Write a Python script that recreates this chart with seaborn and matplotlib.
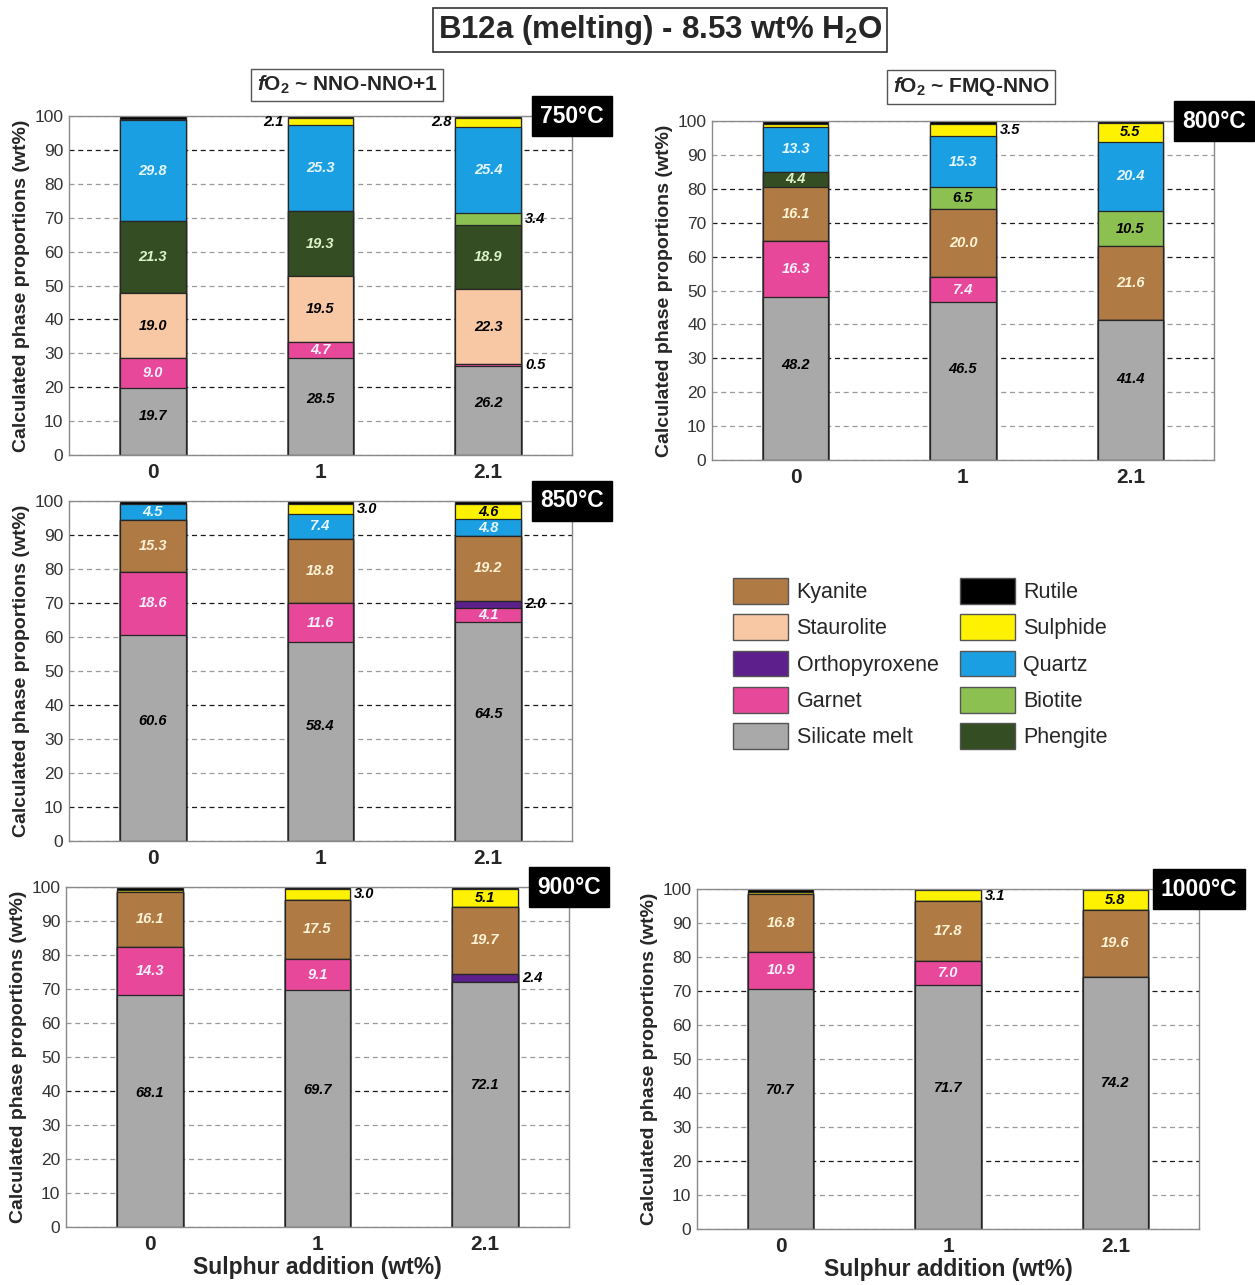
import matplotlib
matplotlib.use("Agg")
import matplotlib.pyplot as plt
import numpy as np
import pandas as pd
import seaborn as sns
from matplotlib.patches import Patch

sns.set_theme(style="white")
plt.rcParams['font.family'] = ['Liberation Sans', 'DejaVu Sans']
plt.rcParams['mathtext.fontset'] = 'custom'
plt.rcParams['mathtext.rm'] = 'Liberation Sans:bold'
plt.rcParams['mathtext.it'] = 'Liberation Sans:italic:bold'
plt.rcParams['mathtext.bf'] = 'Liberation Sans:bold'

# ---------------- data ----------------
sulphur = ["0", "1", "2.1"]
phases = ["Silicate melt", "Garnet", "Orthopyroxene", "Staurolite", "Kyanite",
          "Phengite", "Biotite", "Quartz", "Sulphide", "Rutile"]

colors = {
    "Kyanite": "#b07a45", "Staurolite": "#f8c8a4", "Orthopyroxene": "#5c1f8c",
    "Garnet": "#e8489a", "Silicate melt": "#a9a9a9", "Rutile": "#000000",
    "Sulphide": "#fff200", "Quartz": "#1aa0e2", "Biotite": "#8cc152",
    "Phengite": "#344d22",
}

t750 = {"Silicate melt": [19.7, 28.5, 26.2], "Garnet": [9.0, 4.7, 0.5],
        "Orthopyroxene": [0, 0, 0], "Staurolite": [19.0, 19.5, 22.3],
        "Kyanite": [0, 0, 0], "Phengite": [21.3, 19.3, 18.9],
        "Biotite": [0, 0, 3.4], "Quartz": [29.8, 25.3, 25.4],
        "Sulphide": [0.4, 2.1, 2.8], "Rutile": [0.8, 0.6, 0.5]}
t800 = {"Silicate melt": [48.2, 46.5, 41.4], "Garnet": [16.3, 7.4, 0],
        "Orthopyroxene": [0, 0, 0], "Staurolite": [0, 0, 0],
        "Kyanite": [16.1, 20.0, 21.6], "Phengite": [4.4, 0, 0],
        "Biotite": [0, 6.5, 10.5], "Quartz": [13.3, 15.3, 20.4],
        "Sulphide": [0.7, 3.5, 5.5], "Rutile": [1.0, 0.8, 0.6]}
t850 = {"Silicate melt": [60.6, 58.4, 64.5], "Garnet": [18.6, 11.6, 4.1],
        "Orthopyroxene": [0, 0, 2.0], "Staurolite": [0, 0, 0],
        "Kyanite": [15.3, 18.8, 19.2], "Phengite": [0, 0, 0],
        "Biotite": [0, 0, 0], "Quartz": [4.5, 7.4, 4.8],
        "Sulphide": [0, 3.0, 4.6], "Rutile": [1.0, 0.8, 0.8]}
t900 = {"Silicate melt": [68.1, 69.7, 72.1], "Garnet": [14.3, 9.1, 0],
        "Orthopyroxene": [0, 0, 2.4], "Staurolite": [0, 0, 0],
        "Kyanite": [16.1, 17.5, 19.7], "Phengite": [0, 0, 0],
        "Biotite": [0, 0, 0], "Quartz": [0, 0, 0],
        "Sulphide": [0.5, 3.0, 5.1], "Rutile": [1.0, 0.7, 0.7]}
t1000 = {"Silicate melt": [70.7, 71.7, 74.2], "Garnet": [10.9, 7.0, 0],
         "Orthopyroxene": [0, 0, 0], "Staurolite": [0, 0, 0],
         "Kyanite": [16.8, 17.8, 19.6], "Phengite": [0, 0, 0],
         "Biotite": [0, 0, 0], "Quartz": [0, 0, 0],
         "Sulphide": [0.6, 3.1, 5.8], "Rutile": [1.0, 0.4, 0.4]}

# which segments carry a value label, and where (in / right / left)
lab750 = [("Silicate melt", 0, "in"), ("Silicate melt", 1, "in"), ("Silicate melt", 2, "in"),
          ("Garnet", 0, "in"), ("Garnet", 1, "in"), ("Garnet", 2, "right"),
          ("Staurolite", 0, "in"), ("Staurolite", 1, "in"), ("Staurolite", 2, "in"),
          ("Phengite", 0, "in"), ("Phengite", 1, "in"), ("Phengite", 2, "in"),
          ("Biotite", 2, "right"),
          ("Quartz", 0, "in"), ("Quartz", 1, "in"), ("Quartz", 2, "in"),
          ("Sulphide", 1, "left"), ("Sulphide", 2, "left")]
lab800 = [("Silicate melt", 0, "in"), ("Silicate melt", 1, "in"), ("Silicate melt", 2, "in"),
          ("Garnet", 0, "in"), ("Garnet", 1, "in"),
          ("Kyanite", 0, "in"), ("Kyanite", 1, "in"), ("Kyanite", 2, "in"),
          ("Phengite", 0, "in"), ("Biotite", 1, "in"), ("Biotite", 2, "in"),
          ("Quartz", 0, "in"), ("Quartz", 1, "in"), ("Quartz", 2, "in"),
          ("Sulphide", 1, "right"), ("Sulphide", 2, "in")]
lab850 = [("Silicate melt", 0, "in"), ("Silicate melt", 1, "in"), ("Silicate melt", 2, "in"),
          ("Garnet", 0, "in"), ("Garnet", 1, "in"), ("Garnet", 2, "in"),
          ("Orthopyroxene", 2, "right"),
          ("Kyanite", 0, "in"), ("Kyanite", 1, "in"), ("Kyanite", 2, "in"),
          ("Quartz", 0, "in"), ("Quartz", 1, "in"), ("Quartz", 2, "in"),
          ("Sulphide", 1, "right"), ("Sulphide", 2, "in")]
lab900 = [("Silicate melt", 0, "in"), ("Silicate melt", 1, "in"), ("Silicate melt", 2, "in"),
          ("Garnet", 0, "in"), ("Garnet", 1, "in"), ("Orthopyroxene", 2, "right"),
          ("Kyanite", 0, "in"), ("Kyanite", 1, "in"), ("Kyanite", 2, "in"),
          ("Sulphide", 1, "right"), ("Sulphide", 2, "in")]
lab1000 = [("Silicate melt", 0, "in"), ("Silicate melt", 1, "in"), ("Silicate melt", 2, "in"),
           ("Garnet", 0, "in"), ("Garnet", 1, "in"),
           ("Kyanite", 0, "in"), ("Kyanite", 1, "in"), ("Kyanite", 2, "in"),
           ("Sulphide", 1, "right"), ("Sulphide", 2, "in")]

# gridlines that appear darker in the original figure
dark750 = [90, 40, 20]
dark800 = [80, 70, 60, 30]
dark850 = [90, 70, 40, 10]
dark900 = [40]
dark1000 = [70, 20]

inside_text_color = {"Garnet": "#f6f0ff", "Quartz": "#e8f7ff", "Phengite": "#e0f2c8",
                     "Kyanite": "#fff3d6"}

# ---------------- figure ----------------
W, H = 1255, 1285
fig = plt.figure(figsize=(W / 100, H / 100), dpi=100)
fig.patch.set_facecolor("white")

BAR_W = 0.39
LAB_FS = 10.5


def px_axes(left, top, right, bottom):
    return fig.add_axes([left / W, 1 - bottom / H, (right - left) / W, (bottom - top) / H])


panels = [
    ("750°C", t750, lab750, dark750, px_axes(69, 116, 572, 455), False),
    ("800°C", t800, lab800, dark800, px_axes(712, 121, 1214, 460), False),
    ("850°C", t850, lab850, dark850, px_axes(69, 501, 572, 841), False),
    ("900°C", t900, lab900, dark900, px_axes(66, 887, 569, 1227), True),
    ("1000°C", t1000, lab1000, dark1000, px_axes(697, 889, 1199, 1229), True),
]

for temp, data, labels, dark, ax, bottom_row in panels:
    df = pd.DataFrame(data, index=sulphur)
    cum = df[phases].cumsum(axis=1)
    ax.set_axisbelow(True)
    # draw cumulative bars from the top phase down so lower phases overlay
    for ph in phases[::-1]:
        d = pd.DataFrame({"sulphur": sulphur, "top": cum[ph].values})
        sns.barplot(data=d, x="sulphur", y="top", order=sulphur, color=colors[ph],
                    saturation=1, width=BAR_W, edgecolor="#262626", linewidth=0.9,
                    errorbar=None, ax=ax)
    ax.set_xlim(-0.5, 2.5)
    ax.set_ylim(0, 100)
    ax.set_yticks(np.arange(0, 101, 10))
    ax.yaxis.grid(True, linestyle=(0, (4, 3)), color="#9a9a9a", linewidth=0.9)
    ax.xaxis.grid(False)
    for loc, gl in zip(ax.get_yticks(), ax.get_ygridlines()):
        if int(round(loc)) in dark:
            gl.set_color("#1a1a1a")
    ax.tick_params(axis="y", labelsize=12.5, colors="#333333", length=0, pad=4)
    ax.tick_params(axis="x", labelsize=15, length=0, pad=6)
    for t in ax.get_xticklabels():
        t.set_fontweight("bold")
    for s in ax.spines.values():
        s.set_color("#8a8a8a")
        s.set_linewidth(1.0)
    ax.set_ylabel("Calculated phase proportions (wt%)", fontsize=14, fontweight="bold",
                  labelpad=3)
    if bottom_row:
        ax.set_xlabel("Sulphur addition (wt%)", fontsize=16.5, fontweight="bold", labelpad=1)
    else:
        ax.set_xlabel("")

    # value labels
    for ph, i, where in labels:
        v = df.loc[sulphur[i], ph]
        top = cum.loc[sulphur[i], ph]
        bot = top - v
        if ph == "Silicate melt":
            y = bot + 0.58 * v
        else:
            y = bot + 0.5 * v
        txt = f"{v:.1f}"
        kw = dict(va="center", fontsize=LAB_FS, fontweight="bold", fontstyle="italic",
                  zorder=10)
        if where == "in":
            ax.text(i, y, txt, ha="center", color=inside_text_color.get(ph, "black"), **kw)
        elif where == "right":
            ax.text(i + BAR_W / 2 + 0.025, y, txt, ha="left", color="black", **kw)
        else:
            ax.text(i - BAR_W / 2 - 0.025, y, txt, ha="right", color="black", **kw)

    # temperature tag
    ax.text(1.0, 1.0, temp, transform=ax.transAxes, ha="center", va="center",
            fontsize=16.5, fontweight="bold", color="white", zorder=20, clip_on=False,
            bbox=dict(boxstyle="square,pad=0.35", fc="black", ec="black"))

# title and fO2 boxes
fig.text(0.526, 0.9767, r"B12a (melting) - 8.53 wt% H$_2$O", ha="center", va="center",
         fontsize=22.5, fontweight="bold",
         bbox=dict(boxstyle="square,pad=0.15", fc="white", ec="#333333", lw=1.2))
fig.text(347 / W, 1 - 85 / H, r"$f$O$_2$ ~ NNO-NNO+1", ha="center", va="center",
         fontsize=15, fontweight="bold",
         bbox=dict(boxstyle="square,pad=0.25", fc="white", ec="#555555", lw=1.0))
fig.text(971 / W, 1 - 87 / H, r"$f$O$_2$ ~ FMQ-NNO", ha="center", va="center",
         fontsize=15, fontweight="bold",
         bbox=dict(boxstyle="square,pad=0.25", fc="white", ec="#555555", lw=1.0))

# legend
leg_order = ["Kyanite", "Staurolite", "Orthopyroxene", "Garnet", "Silicate melt",
             "Rutile", "Sulphide", "Quartz", "Biotite", "Phengite"]
handles = [Patch(facecolor=colors[p], edgecolor="#555555", label=p) for p in leg_order]
fig.legend(handles=handles, ncol=2, loc="upper left", bbox_to_anchor=(733 / W, 1 - 578 / H),
           frameon=False, fontsize=15.5, handlelength=2.55, handleheight=1.45,
           labelspacing=0.5, columnspacing=1.0, handletextpad=0.4, borderpad=0,
           borderaxespad=0)

fig.savefig("out.png", dpi=100, facecolor="white")
